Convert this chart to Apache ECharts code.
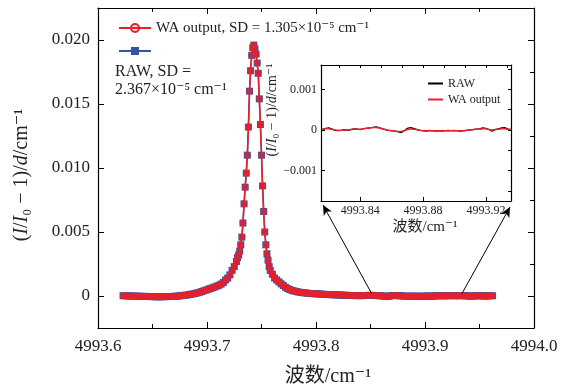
<!DOCTYPE html>
<html>
<head>
<meta charset="utf-8">
<script src="https://cdn.jsdelivr.net/npm/echarts@6/dist/echarts.min.js"></script>
<style>
  html, body { margin: 0; padding: 0; background: #fff; }
  #chart { width: 564px; height: 389px; }
</style>
</head>
<body>
<div id="chart"></div>
<script>
// main spectrum, wavenumber in cm-1
const wavenumber = [
  // left baseline
  4993.623, 4993.625, 4993.627, 4993.629, 4993.631, 4993.633, 4993.635, 4993.637, 4993.639, 4993.641,
  4993.643, 4993.645, 4993.647, 4993.649, 4993.651, 4993.653, 4993.655, 4993.657, 4993.659, 4993.661,
  4993.663, 4993.665, 4993.667, 4993.669, 4993.671, 4993.673, 4993.675, 4993.677, 4993.679, 4993.681,
  4993.683, 4993.685, 4993.687, 4993.689, 4993.691, 4993.693, 4993.695, 4993.697, 4993.699,
  // left wing
  4993.701, 4993.703, 4993.705, 4993.707, 4993.709, 4993.711, 4993.713, 4993.715, 4993.717, 4993.719,
  4993.721, 4993.723, 4993.725, 4993.727,
  // peak
  4993.728, 4993.729, 4993.730, 4993.731, 4993.732, 4993.733, 4993.734, 4993.735, 4993.736, 4993.737,
  4993.738, 4993.739, 4993.740, 4993.741, 4993.742, 4993.743, 4993.744, 4993.745, 4993.746, 4993.747,
  4993.748, 4993.749, 4993.750, 4993.751, 4993.752, 4993.753, 4993.754, 4993.755, 4993.756, 4993.757,
  4993.758,
  // right wing
  4993.760, 4993.762, 4993.764, 4993.766, 4993.768, 4993.770, 4993.772, 4993.774, 4993.776, 4993.778,
  4993.780, 4993.782, 4993.784, 4993.786, 4993.788, 4993.790,
  // right baseline
  4993.792, 4993.794, 4993.796, 4993.798, 4993.800, 4993.802, 4993.804, 4993.806, 4993.808, 4993.810,
  4993.812, 4993.814, 4993.816, 4993.818, 4993.820, 4993.822, 4993.824, 4993.826, 4993.828, 4993.830,
  4993.832, 4993.834, 4993.836, 4993.838, 4993.840, 4993.842, 4993.844, 4993.846, 4993.848, 4993.850,
  4993.852, 4993.854, 4993.856, 4993.858, 4993.860, 4993.862, 4993.864, 4993.866, 4993.868, 4993.870,
  4993.872, 4993.874, 4993.876, 4993.878, 4993.880, 4993.882, 4993.884, 4993.886, 4993.888, 4993.890,
  4993.892, 4993.894, 4993.896, 4993.898, 4993.900, 4993.902, 4993.904, 4993.906, 4993.908, 4993.910,
  4993.912, 4993.914, 4993.916, 4993.918, 4993.920, 4993.922, 4993.924, 4993.926, 4993.928, 4993.930,
  4993.932, 4993.934, 4993.936, 4993.938, 4993.940, 4993.942, 4993.944, 4993.946, 4993.948, 4993.950,
  4993.952, 4993.954, 4993.956, 4993.958, 4993.960, 4993.962
];
const rawSignal = [
  0.00002, 0.00001, 0.00001, 0, 0, -0.00001, -0.00001, -0.00002, -0.00002, -0.00003,
  -0.00003, -0.00004, -0.00004, -0.00005, -0.00005, -0.00006, -0.00006, -0.00006, -0.00006, -0.00005,
  -0.00005, -0.00004, -0.00004, -0.00003, -0.00002, -0.00001, 0.00001, 0.00003, 0.00005, 0.00007,
  0.0001, 0.00013, 0.00016, 0.0002, 0.00024, 0.00029, 0.00034, 0.0004, 0.00046,
  0.00052, 0.00058, 0.00064, 0.0007, 0.00077, 0.00084, 0.00093, 0.00105, 0.00125, 0.0014,
  0.00165, 0.002, 0.0023, 0.0027,
  0.003, 0.0032, 0.0035, 0.004, 0.0046, 0.0057, 0.0072, 0.0085, 0.0096, 0.011,
  0.0132, 0.016, 0.0176, 0.0188, 0.0194, 0.0196, 0.0193, 0.0189, 0.0182, 0.0174,
  0.0154, 0.0134, 0.011, 0.0086, 0.0066, 0.005, 0.004, 0.0033, 0.0028, 0.0023,
  0.002,
  0.0017, 0.0014, 0.00125, 0.0011, 0.00095, 0.00082, 0.00068, 0.00058, 0.0005, 0.00044,
  0.00039, 0.00035, 0.00031, 0.00028, 0.00026, 0.00024,
  0.00022, 0.0002, 0.00019, 0.00018, 0.00017, 0.00016, 0.00015, 0.00014, 0.00013, 0.00012,
  0.00011, 0.0001, 0.0001, 0.00009, 0.00008, 0.00008, 0.00007, 0.00006, 0.00005, 0.00005,
  0.00004, 0.00004, 0.00003, 0.00003, 0.00003, 0.00003, 0.00004, 0.00004, 0.00005, 0.00005,
  0.00005, 0.00004, 0.00003, 0.00002, 0.00001, 0, -0.00002, -0.00003, 0, 0.00004,
  0.00004, 0.00003, 0.00002, 0.00001, 0, -0.00001, -0.00002, -0.00002, -0.00001, -0.00001,
  -0.00002, -0.00002, -0.00002, -0.00002, -0.00001, 0, -0.00001, -0.00001, 0, 0.00001,
  0.00001, 0.00002, 0.00002, 0.00001, 0.00002, 0.00002, 0.00003, 0.00003, 0.00002, 0.00002,
  0.00003, 0.00003, 0.00002, 0.00001, 0, -0.00001, 0, 0.00001, 0.00002, 0.00002,
  0.00001, 0, 0, 0.00001, 0.00002, 0.00002
];
// on this scale the wavelet output sits on top of the raw points
const waSignal = rawSignal;

// inset (zoomed baseline)
const insetWavenumber = [
  4993.816, 4993.818, 4993.820, 4993.822, 4993.824, 4993.826, 4993.828, 4993.830, 4993.832, 4993.834,
  4993.836, 4993.838, 4993.840, 4993.842, 4993.844, 4993.846, 4993.848, 4993.850, 4993.852, 4993.854,
  4993.856, 4993.858, 4993.860, 4993.862, 4993.864, 4993.866, 4993.868, 4993.870, 4993.872, 4993.874,
  4993.876, 4993.878, 4993.880, 4993.882, 4993.884, 4993.886, 4993.888, 4993.890, 4993.892, 4993.894,
  4993.896, 4993.898, 4993.900, 4993.902, 4993.904, 4993.906, 4993.908, 4993.910, 4993.912, 4993.914,
  4993.916, 4993.918, 4993.920, 4993.922, 4993.924, 4993.926, 4993.928, 4993.930, 4993.932, 4993.934,
  4993.936
];
const insetRaw = [
  0.00002, 0.00004, 0.00005, 0.00002, -0.00001, -0.00002, -0.00001, 0.00001, -0.00001, 0.00001,
  0.00003, 0.00002, 0.00001, 0.00003, 0.00004, 0.00005, 0.00006, 0.00008, 0.00006, 0.00003,
  0.00001, -0.00001, -0.00002, -0.00003, -0.00004, -0.00007, -0.00002, 0.00004, 0.00006, 0.00004,
  0.00001, -0.00001, -0.00002, -0.00003, -0.00001, -0.00002, -0.00003, -0.00002, -0.00003, -0.00002,
  -0.00001, -0.00002, -0.00001, -0.00002, -0.00003, -0.00002, -0.00001, 0, 0.00001, 0.00002,
  0.00003, 0.00005, 0.00004, 0.00001, -0.00003, 0.00001, 0.00003, 0.00005, 0.00006, 0.00002,
  0.00001
];
const insetWa = [
  0.00002, 0.00003, 0.00003, 0.00002, 0, -0.00001, -0.00001, 0, 0, 0.00001,
  0.00002, 0.00002, 0.00002, 0.00003, 0.00004, 0.00005, 0.00006, 0.00006, 0.00005, 0.00003,
  0.00001, -0.00001, -0.00002, -0.00003, -0.00004, -0.00004, -0.00002, 0.00001, 0.00003, 0.00002,
  0.00001, -0.00001, -0.00002, -0.00002, -0.00002, -0.00002, -0.00002, -0.00002, -0.00002, -0.00002,
  -0.00002, -0.00002, -0.00002, -0.00002, -0.00002, -0.00002, -0.00001, 0, 0.00001, 0.00002,
  0.00002, 0.00003, 0.00003, 0.00001, 0, 0.00001, 0.00002, 0.00003, 0.00003, 0.00002,
  0.00001
];

// ticks
const yMajorTicks = [0, 0.005, 0.01, 0.015, 0.02];
const yMinorTicks = [0.0025, 0.0075, 0.0125, 0.0175];
const insetXTicks = [4993.84, 4993.88, 4993.92];
const insetTopTicks = [4993.8267, 4993.84, 4993.8533, 4993.8667, 4993.88, 4993.8933, 4993.9067, 4993.92, 4993.9333];
const insetYTicks = [-0.001, 0, 0.001];
const insetRightTicks = [-0.0015, -0.001, -0.0005, 0, 0.0005, 0.001, 0.0015];

const RAW_NAME = 'RAW, SD = 2.367×10⁻⁵ cm⁻¹';
const WA_NAME = 'WA output, SD = 1.305×10⁻⁵ cm⁻¹';

const FONT = "'Liberation Serif', 'DejaVu Serif', 'Noto Sans CJK SC', serif";
const RED = '#e8202a';
const BLUE = '#3953a4';
const TXT = '#222';

const pairs = (xs, ys) => xs.map((x, i) => [x, ys[i]]);

const yName = '{n|(}{i|I}{n|/}{i|I}{n|₀ − 1)/}{i|d}{n|/cm⁻¹}';
const richName = function (size) {
  return {
    fontFamily: FONT, fontSize: size, color: TXT,
    rich: {
      n: { fontFamily: FONT, fontSize: size, color: TXT },
      i: { fontFamily: FONT, fontSize: size, color: TXT, fontStyle: 'italic' },
    },
  };
};

const line = { onZero: false, lineStyle: { color: '#000', width: 1.2 } };
const tick = (len, extra) => Object.assign({ inside: true, length: len, lineStyle: { color: '#000', width: 1 } }, extra || {});

const chart = echarts.init(document.getElementById('chart'));

chart.setOption({
  animation: false,
  backgroundColor: '#fff',
  grid: [
    { left: 98, top: 8, width: 436, height: 320, outerBoundsMode: 'none' },
    { left: 321, top: 65, width: 190, height: 136, outerBoundsMode: 'none', show: true, backgroundColor: '#fff', borderWidth: 0 },
  ],
  legend: [
    {
      data: [WA_NAME, RAW_NAME],
      orient: 'vertical',
      left: 113,
      top: 14,
      itemWidth: 32,
      itemHeight: 10,
      itemGap: 10,
      selectedMode: false,
      formatter: (n) => (n === RAW_NAME ? '' : n),
      textStyle: { fontFamily: FONT, fontSize: 15, color: TXT, lineHeight: 18 },
    },
    {
      data: ['RAW', 'WA output'],
      orient: 'vertical',
      left: 423,
      top: 72,
      icon: 'rect',
      itemWidth: 15,
      itemHeight: 2,
      itemGap: 3,
      selectedMode: false,
      textStyle: { fontFamily: FONT, fontSize: 12, color: TXT, lineHeight: 13 },
    },
  ],
  graphic: [
    {
      type: 'text',
      left: 115,
      top: 63,
      style: {
        text: 'RAW, SD =\n2.367×10⁻⁵ cm⁻¹',
        font: '16px ' + FONT,
        fill: TXT,
        lineHeight: 18,
      },
    },
  ],
  xAxis: [
    {
      gridIndex: 0, type: 'value', min: 4993.6, max: 4994.0, interval: 0.1,
      axisLine: line, axisTick: tick(6),
      minorTick: { show: true, splitNumber: 2, length: 4, lineStyle: { color: '#000' } },
      splitLine: { show: false },
      axisLabel: { fontFamily: FONT, fontSize: 17, color: TXT, margin: 10, formatter: (v) => v.toFixed(1) },
      name: '波数/cm⁻¹', nameLocation: 'middle', nameGap: 39,
      nameTextStyle: { fontFamily: FONT, fontSize: 20, color: TXT, padding: [0, 0, 0, 24] },
    },
    {
      gridIndex: 0, type: 'value', position: 'top', min: 4993.6, max: 4994.0, interval: 0.1,
      axisLine: line, axisTick: tick(6),
      minorTick: { show: true, splitNumber: 2, length: 4, lineStyle: { color: '#000' } },
      splitLine: { show: false }, axisLabel: { show: false },
    },
    {
      gridIndex: 1, type: 'value', min: 4993.815, max: 4993.936, z: 5,
      axisLine: line, axisTick: tick(4, { customValues: insetXTicks }),
      splitLine: { show: false },
      axisLabel: { customValues: insetXTicks, fontFamily: FONT, fontSize: 12, color: TXT, margin: 4, formatter: (v) => v.toFixed(2) },
      name: '波数/cm⁻¹', nameLocation: 'middle', nameGap: 19,
      nameTextStyle: { fontFamily: FONT, fontSize: 15, color: TXT, padding: [0, 0, 0, 18] },
    },
    {
      gridIndex: 1, type: 'value', position: 'top', min: 4993.815, max: 4993.936, z: 5,
      axisLine: line, axisTick: tick(3, { customValues: insetTopTicks }),
      splitLine: { show: false }, axisLabel: { show: false },
    },
  ],
  yAxis: [
    {
      gridIndex: 0, type: 'value', min: -0.0025, max: 0.0225,
      axisLine: line, axisTick: tick(6, { customValues: yMajorTicks }),
      splitLine: { show: false },
      axisLabel: {
        customValues: yMajorTicks, fontFamily: FONT, fontSize: 17, color: TXT, margin: 8,
        formatter: (v) => (Math.abs(v) < 1e-9 ? '0' : v.toFixed(3)),
      },
      name: yName, nameLocation: 'middle', nameRotate: 90, nameGap: 66,
      nameTextStyle: Object.assign(richName(20), { padding: [0, 14, 0, 0] }),
    },
    {
      gridIndex: 0, type: 'value', min: -0.0025, max: 0.0225,
      axisLine: { show: false }, axisTick: tick(4, { customValues: yMinorTicks }),
      splitLine: { show: false }, axisLabel: { show: false },
    },
    {
      gridIndex: 0, type: 'value', position: 'right', min: -0.0025, max: 0.0225,
      axisLine: line, axisTick: tick(6, { customValues: yMajorTicks }),
      splitLine: { show: false }, axisLabel: { show: false },
    },
    {
      gridIndex: 0, type: 'value', position: 'right', min: -0.0025, max: 0.0225,
      axisLine: { show: false }, axisTick: tick(4, { customValues: yMinorTicks }),
      splitLine: { show: false }, axisLabel: { show: false },
    },
    {
      gridIndex: 1, type: 'value', min: -0.00175, max: 0.0016, z: 5,
      axisLine: line, axisTick: tick(4, { customValues: insetYTicks }),
      splitLine: { show: false },
      axisLabel: {
        customValues: insetYTicks, fontFamily: FONT, fontSize: 12, color: TXT, margin: 4,
        formatter: (v) => (Math.abs(v) < 1e-9 ? '0' : v < 0 ? '−' + (-v).toFixed(3) : v.toFixed(3)),
      },
      name: yName, nameLocation: 'middle', nameRotate: 90, nameGap: 32,
      nameTextStyle: Object.assign(richName(14), { padding: [0, 0, 0, 46] }),
    },
    {
      gridIndex: 1, type: 'value', position: 'right', min: -0.00175, max: 0.0016, z: 5,
      axisLine: line, axisTick: tick(3, { customValues: insetRightTicks }),
      splitLine: { show: false }, axisLabel: { show: false },
    },
  ],
  series: [
    {
      name: RAW_NAME,
      type: 'line',
      xAxisIndex: 0,
      yAxisIndex: 0,
      data: pairs(wavenumber, rawSignal),
      symbol: 'rect',
      symbolSize: 7,
      showAllSymbol: true,
      itemStyle: { color: BLUE },
      lineStyle: { color: BLUE, width: 1.5 },
      z: 2,
    },
    {
      name: WA_NAME,
      type: 'line',
      xAxisIndex: 0,
      yAxisIndex: 0,
      data: pairs(wavenumber, waSignal),
      symbol: 'circle',
      symbolSize: 5,
      showAllSymbol: true,
      itemStyle: { color: 'rgba(232,32,42,0.15)', borderColor: RED, borderWidth: 1.5 },
      lineStyle: { color: RED, width: 1.6 },
      z: 3,
    },
    {
      name: 'RAW',
      type: 'line',
      xAxisIndex: 2,
      yAxisIndex: 4,
      data: pairs(insetWavenumber, insetRaw),
      symbol: 'none',
      lineStyle: { color: '#000', width: 1.2 },
      itemStyle: { color: '#000' },
      z: 6,
    },
    {
      name: 'WA output',
      type: 'line',
      xAxisIndex: 2,
      yAxisIndex: 4,
      data: pairs(insetWavenumber, insetWa),
      symbol: 'none',
      lineStyle: { color: RED, width: 1.5 },
      itemStyle: { color: RED },
      z: 7,
    },
  ],
});

// arrows from the baseline up to the corners of the inset
const cornerL = chart.convertToPixel({ gridIndex: 1 }, [4993.815, -0.00175]);
const cornerR = chart.convertToPixel({ gridIndex: 1 }, [4993.936, -0.00175]);
chart.setOption({
  series: [
    {},
    {
      markLine: {
        silent: true,
        symbol: ['none', 'arrow'],
        symbolSize: [7, 10],
        label: { show: false },
        lineStyle: { color: '#000', width: 1, type: 'solid' },
        data: [
          [{ coord: [4993.851, 0.0002] }, { x: cornerL[0] + 2, y: cornerL[1] + 4 }],
          [{ coord: [4993.934, 0.0002] }, { x: cornerR[0] - 1, y: cornerR[1] + 6 }],
        ],
      },
    },
  ],
});
</script>
</body>
</html>
